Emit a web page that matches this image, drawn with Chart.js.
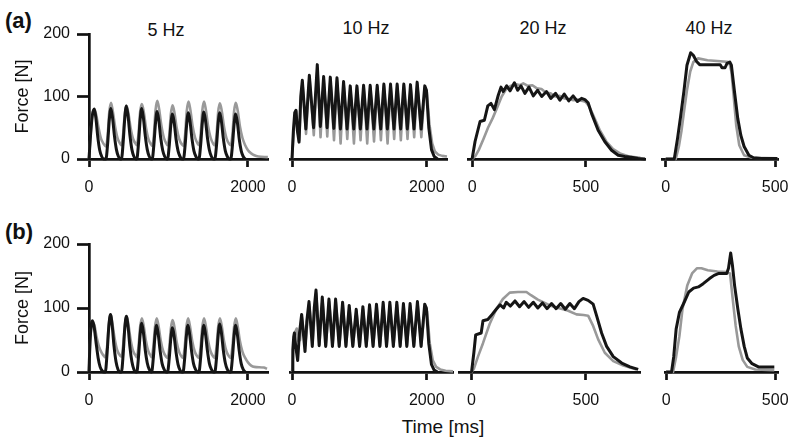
<!DOCTYPE html>
<html>
<head>
<meta charset="utf-8">
<script src="https://cdn.jsdelivr.net/npm/chart.js@4/dist/chart.umd.min.js"></script>
<style>
  body { margin: 0; background: #fff; }
  #wrap { position: relative; width: 800px; height: 445px; overflow: hidden; font-family: "Liberation Sans", Arial, sans-serif; color: #111; }
  canvas { position: absolute; left: 0; top: 0; }
  .lbl { position: absolute; transform: translate(-50%, -50%); white-space: nowrap; font-size: 18px; }
  .tag { position: absolute; font-weight: bold; font-size: 22px; }
</style>
</head>
<body>
<div id="wrap">
  <div class="tag" style="left:5px;top:8px">(a)</div>
  <div class="tag" style="left:5px;top:219px">(b)</div>
  <div class="lbl" style="left:166px;top:30px">5 Hz</div>
  <div class="lbl" style="left:366px;top:28px">10 Hz</div>
  <div class="lbl" style="left:543px;top:28px">20 Hz</div>
  <div class="lbl" style="left:709px;top:28px">40 Hz</div>
  <div class="lbl" style="left:443px;top:427px;font-size:19px">Time [ms]</div>
</div>
<script>
// force traces [time ms, force N]; black = measured, gray = model
const freqs = ["5 Hz", "10 Hz", "20 Hz", "40 Hz"];
const forceTicks = [0, 100, 200];
const tickA = [0, 2000];
const tickB = [0, 500];

const a5Black = [[0,0],[15,30],[40,68],[67,80],[88,64],[110,36],[135,14],[160,4],[185,0],
  [213,0],[235,25],[255,62],[275,81],[297,65],[320,37],[345,15],[370,4],[395,0],
  [408,0],[430,27],[450,65],[470,85],[492,68],[515,38],[540,15],[565,4],[590,0],
  [601,0],[623,25],[643,62],[663,81],[685,65],[708,37],[733,15],[758,4],[783,0],
  [795,0],[817,24],[837,58],[857,76],[879,61],[902,34],[927,14],[952,4],[977,0],
  [988,0],[1010,22],[1030,55],[1050,72],[1072,58],[1095,32],[1120,13],[1145,4],[1170,0],
  [1188,0],[1210,23],[1230,57],[1250,74],[1272,59],[1295,33],[1320,13],[1345,4],[1370,0],
  [1383,0],[1405,23],[1425,57],[1445,75],[1467,60],[1490,34],[1515,14],[1540,4],[1565,0],
  [1583,0],[1605,23],[1625,57],[1645,74],[1667,59],[1690,33],[1715,13],[1740,4],[1765,0],
  [1783,0],[1805,22],[1825,55],[1845,72],[1867,58],[1890,32],[1915,13],[1940,4],[1965,0]];
const a5Gray = [[0,0],[18,35],[42,72],[67,80],[92,70],[120,50],[150,33],[185,24],[213,20],
  [235,38],[255,75],[277,90],[300,76],[328,52],[360,33],[395,24],[408,22],
  [430,40],[450,72],[472,85],[495,74],[523,50],[555,32],[590,24],[601,22],
  [623,40],[643,75],[665,88],[688,76],[716,51],[748,32],[783,23],[795,21],
  [817,40],[837,78],[859,93],[882,80],[910,54],[942,34],[977,24],[988,22],
  [1010,38],[1030,72],[1052,86],[1075,74],[1103,50],[1135,32],[1170,23],[1188,21],
  [1210,40],[1230,77],[1252,92],[1275,79],[1303,53],[1335,34],[1370,24],[1383,22],
  [1405,40],[1425,77],[1447,92],[1470,79],[1498,53],[1530,34],[1565,24],[1583,22],
  [1605,39],[1625,75],[1647,89],[1670,77],[1698,52],[1730,33],[1765,24],[1783,22],
  [1805,40],[1825,76],[1847,90],[1870,78],[1898,53],[1930,34],[1965,22],[2000,14],[2040,9],[2080,6],[2130,4],[2250,3]];

const a10Black = [[0,0],[20,45],[40,74],[59,78],[80,45],[104,27],[130,100],[153,126],[205,48],[257,134],[320,50],[375,151],
  [420,52],[469,132],[520,50],[568,131],[620,49],[667,130],[718,48],[765,124],[817,48],[864,117],[916,48],[963,117],
  [1014,48],[1062,118],[1113,48],[1160,118],[1214,48],[1264,118],[1316,48],[1363,120],[1415,48],[1462,120],[1513,48],
  [1560,120],[1612,48],[1659,120],[1711,48],[1758,119],[1810,48],[1857,123],[1916,48],[1970,117],[1995,110],[2030,50],
  [2070,15],[2110,4],[2160,0]];
const a10Gray = [[0,0],[22,40],[42,70],[62,76],[82,45],[106,30],[132,95],[155,122],[208,40],[259,130],[323,38],[377,145],
  [423,35],[471,128],[523,36],[570,127],[623,30],[669,126],[721,25],[767,120],[820,32],[866,114],[919,25],[965,114],
  [1017,30],[1064,115],[1116,25],[1162,115],[1217,28],[1266,115],[1319,30],[1365,117],[1418,25],[1464,117],[1516,32],
  [1562,117],[1615,30],[1661,117],[1714,32],[1760,116],[1813,35],[1859,120],[1919,35],[1972,114],[2000,108],[2040,55],
  [2080,25],[2120,12],[2170,7],[2230,5],[2300,4]];

const a20Black = [[0,0],[13,28],[35,60],[54,62],[69,85],[83,89],[98,79],[115,102],[127,115],[137,108],[152,117],[167,109],
  [186,122],[200,110],[215,117],[232,105],[250,115],[269,101],[288,110],[306,100],[327,108],[346,97],[367,105],[386,94],
  [405,104],[425,93],[444,101],[463,92],[481,97],[496,95],[510,90],[525,73],[554,46],[583,28],[613,14],[642,6],[671,4],
  [700,3],[730,1],[760,0]];
const a20Gray = [[0,0],[15,5],[30,15],[50,32],[70,50],[90,65],[110,82],[130,100],[150,112],[170,117],[190,120],[210,118],
  [225,121],[245,117],[265,118],[285,113],[305,112],[325,106],[345,105],[365,100],[385,101],[405,97],[425,96],[445,94],
  [465,95],[485,93],[500,91],[515,84],[535,68],[560,47],[590,28],[620,16],[650,9],[690,4],[740,2]];

const a40Black = [[0,0],[39,0],[54,33],[68,68],[83,108],[97,150],[114,170],[126,166],[141,156],[155,151],[249,151],[257,146],
  [271,146],[280,153],[293,155],[300,150],[314,108],[329,65],[343,38],[358,20],[380,6],[401,2],[438,1],[510,1]];
const a40Gray = [[0,0],[46,0],[60,20],[72,45],[85,80],[97,110],[112,140],[126,155],[148,161],[191,158],[264,156],[290,155],
  [300,140],[310,102],[322,54],[336,22],[358,6],[394,2],[510,1]];

const b5Black = [[0,0],[12,45],[30,75],[45,80],[65,70],[90,45],[115,22],[140,8],[165,2],[190,0],
  [205,0],[228,30],[250,72],[270,90],[292,72],[315,40],[340,16],[365,4],[390,0],
  [408,0],[430,28],[450,68],[470,87],[492,70],[515,39],[540,16],[565,4],[590,0],
  [601,0],[623,24],[643,58],[663,76],[685,61],[708,34],[733,14],[758,4],[783,0],
  [788,0],[810,23],[830,56],[850,73],[872,58],[895,33],[920,13],[945,4],[970,0],
  [988,0],[1010,22],[1030,53],[1050,69],[1072,55],[1095,31],[1120,12],[1145,3],[1170,0],
  [1183,0],[1205,23],[1225,56],[1245,73],[1267,58],[1290,33],[1315,13],[1340,4],[1365,0],
  [1383,0],[1405,23],[1425,56],[1445,73],[1467,58],[1490,33],[1515,13],[1540,4],[1565,0],
  [1583,0],[1605,23],[1625,57],[1645,75],[1667,60],[1690,34],[1715,14],[1740,4],[1765,0],
  [1783,0],[1805,23],[1825,56],[1845,73],[1867,58],[1890,33],[1915,13],[1940,4],[1965,0]];
const b5Gray = [[0,0],[12,42],[30,72],[47,78],[70,72],[95,55],[125,40],[160,30],[195,24],[205,23],
  [228,40],[250,75],[272,90],[295,75],[323,52],[355,34],[395,25],[408,24],
  [430,42],[450,72],[472,87],[495,75],[523,51],[555,33],[590,25],[601,23],
  [623,40],[643,70],[665,84],[688,72],[716,49],[748,32],[783,24],[788,23],
  [810,40],[830,70],[852,84],[875,72],[903,49],[935,32],[970,24],[988,22],
  [1010,38],[1030,68],[1052,81],[1075,70],[1103,47],[1135,31],[1170,23],[1183,22],
  [1205,40],[1225,70],[1247,84],[1270,72],[1298,49],[1330,32],[1365,24],[1383,22],
  [1405,40],[1425,70],[1447,84],[1470,72],[1498,49],[1530,32],[1565,24],[1583,22],
  [1605,40],[1625,70],[1647,84],[1670,72],[1698,49],[1730,32],[1765,24],[1783,22],
  [1805,40],[1825,70],[1847,84],[1870,72],[1898,49],[1930,32],[1965,22],[2000,15],[2040,10],[2080,8],[2200,7],[2240,5]];

const b10Black = [[0,0],[12,35],[25,55],[35,61],[55,40],[84,18],[110,60],[143,90],[193,32],[220,80],[252,110],[301,40],
  [330,100],[356,128],[403,41],[449,117],[500,40],[548,114],[600,40],[647,114],[700,40],[751,109],[800,40],[849,104],
  [902,40],[953,98],[1003,40],[1052,102],[1102,40],[1151,105],[1203,40],[1254,106],[1304,40],[1353,109],[1403,40],
  [1452,109],[1504,40],[1556,109],[1605,40],[1654,107],[1704,40],[1753,107],[1808,40],[1862,110],[1916,40],[1970,106],
  [1995,100],[2030,45],[2070,12],[2110,3],[2160,0]];
const b10Gray = [[0,0],[20,35],[45,62],[70,68],[95,48],[120,50],[146,86],[196,42],[255,106],[304,44],[359,123],[406,43],
  [452,113],[503,41],[551,110],[603,41],[650,110],[703,41],[754,105],[803,41],[852,100],[905,41],[956,95],[1006,41],
  [1055,98],[1105,41],[1154,101],[1206,41],[1257,102],[1307,41],[1356,105],[1406,41],[1455,105],[1507,41],[1559,105],
  [1608,41],[1657,103],[1707,41],[1756,103],[1811,41],[1865,106],[1919,41],[1973,102],[2005,95],[2045,45],[2090,18],
  [2140,8],[2200,4],[2280,2],[2390,1]];

const b20Black = [[0,0],[10,30],[18,58],[42,61],[50,80],[71,82],[90,90],[108,98],[125,105],[140,100],[152,109],[170,103],
  [190,111],[210,102],[230,110],[250,101],[270,109],[290,100],[310,108],[330,99],[350,107],[370,99],[390,107],[410,98],
  [430,107],[450,99],[470,110],[488,115],[510,112],[532,106],[547,88],[569,61],[591,40],[620,24],[657,14],[693,8],[729,4]];
const b20Gray = [[0,0],[10,5],[28,24],[50,45],[79,75],[108,98],[137,114],[167,124],[203,125],[240,125],[260,120],[290,113],
  [320,108],[350,103],[380,100],[420,96],[459,90],[490,89],[510,88],[532,72],[554,51],[583,30],[620,17],[664,10],[722,4]];

const b40Black = [[0,0],[25,0],[35,24],[46,67],[61,93],[83,109],[104,125],[126,131],[148,133],[170,138],[199,146],[220,151],
  [242,154],[278,154],[286,162],[296,186],[304,167],[314,135],[329,98],[343,67],[358,40],[372,22],[394,13],[423,8],[496,8]];
const b40Gray = [[0,0],[32,0],[46,24],[61,56],[75,98],[97,135],[119,154],[141,162],[162,162],[191,159],[235,157],[278,156],
  [293,154],[307,109],[319,72],[333,40],[351,19],[372,8],[409,4],[496,3]];

const rowA = { top: 34, bottom: 159 };
const rowB = { top: 244, bottom: 372 };

const panels = [
  { row: rowA, left: 89, right: 268, min: 0, max: 2252, ticks: tickA, showY: true, black: a5Black, gray: a5Gray, smooth: true },
  { row: rowA, left: 290, right: 447, min: -30, max: 2300, ticks: tickA, black: a10Black, gray: a10Gray },
  { row: rowA, left: 468, right: 645, min: -18, max: 760, ticks: tickB, black: a20Black, gray: a20Gray },
  { row: rowA, left: 662, right: 785, min: -17, max: 517, ticks: tickB, black: a40Black, gray: a40Gray },
  { row: rowB, left: 89, right: 268, min: 0, max: 2252, ticks: tickA, showY: true, black: b5Black, gray: b5Gray, smooth: true },
  { row: rowB, left: 290, right: 453, min: -30, max: 2390, ticks: tickA, black: b10Black, gray: b10Gray },
  { row: rowB, left: 459, right: 640, min: -55, max: 737, ticks: tickB, black: b20Black, gray: b20Gray },
  { row: rowB, left: 665, right: 783, min: -5, max: 514, ticks: tickB, black: b40Black, gray: b40Gray }
];

const W = 800, H = 445, X_H = 40, Y_W = 84;
const font = { family: "'Liberation Sans', Arial, sans-serif", size: 16 };
const wrap = document.getElementById("wrap");

panels.forEach(function (p) {
  const cv = document.createElement("canvas");
  cv.width = W; cv.height = H;
  wrap.appendChild(cv);

  const line = function (data, color, width) {
    return {
      data: data,
      borderColor: color,
      borderWidth: width,
      pointRadius: 0,
      fill: false,
      clip: false,
      borderJoinStyle: "round",
      cubicInterpolationMode: p.smooth ? "monotone" : "default",
      tension: 0
    };
  };
  const black = line(p.black, "#151515", 3); black.order = 0;
  const gray = line(p.gray, "#999999", 2.6); gray.order = 1;

  new Chart(cv, {
    type: "line",
    data: { datasets: [black, gray] },
    options: {
      responsive: false,
      animation: false,
      events: [],
      layout: {
        padding: {
          left: p.showY ? p.left - Y_W : p.left,
          right: W - p.right,
          top: p.row.top,
          bottom: H - p.row.bottom - X_H
        }
      },
      plugins: { legend: { display: false }, tooltip: { enabled: false } },
      scales: {
        x: {
          type: "linear",
          min: p.min,
          max: p.max,
          afterBuildTicks: function (ax) { ax.ticks = p.ticks.map(v => ({ value: v })); },
          afterFit: function (ax) { ax.height = X_H; },
          border: { display: true, color: "#111", width: 2.7 },
          grid: { display: true, drawOnChartArea: false, drawTicks: true, tickLength: 8, tickWidth: 2.7, color: "#111" },
          ticks: { color: "#111", font: font, padding: 11, maxRotation: 0, autoSkip: false, callback: v => String(v) }
        },
        y: {
          display: !!p.showY,
          min: 0,
          max: 200,
          afterBuildTicks: function (ax) { ax.ticks = forceTicks.map(v => ({ value: v })); },
          afterFit: function (ax) { if (p.showY) ax.width = Y_W; },
          border: { display: true, color: "#111", width: 2.7 },
          grid: { display: true, drawOnChartArea: false, drawTicks: true, tickLength: 12, tickWidth: 2.7, color: "#111" },
          ticks: { color: "#111", font: font, padding: 7, callback: v => String(v) },
          title: { display: true, text: "Force [N]", color: "#111", font: { family: font.family, size: 18 }, padding: { top: 7, bottom: 0 } }
        }
      }
    }
  });
});
</script>
</body>
</html>
